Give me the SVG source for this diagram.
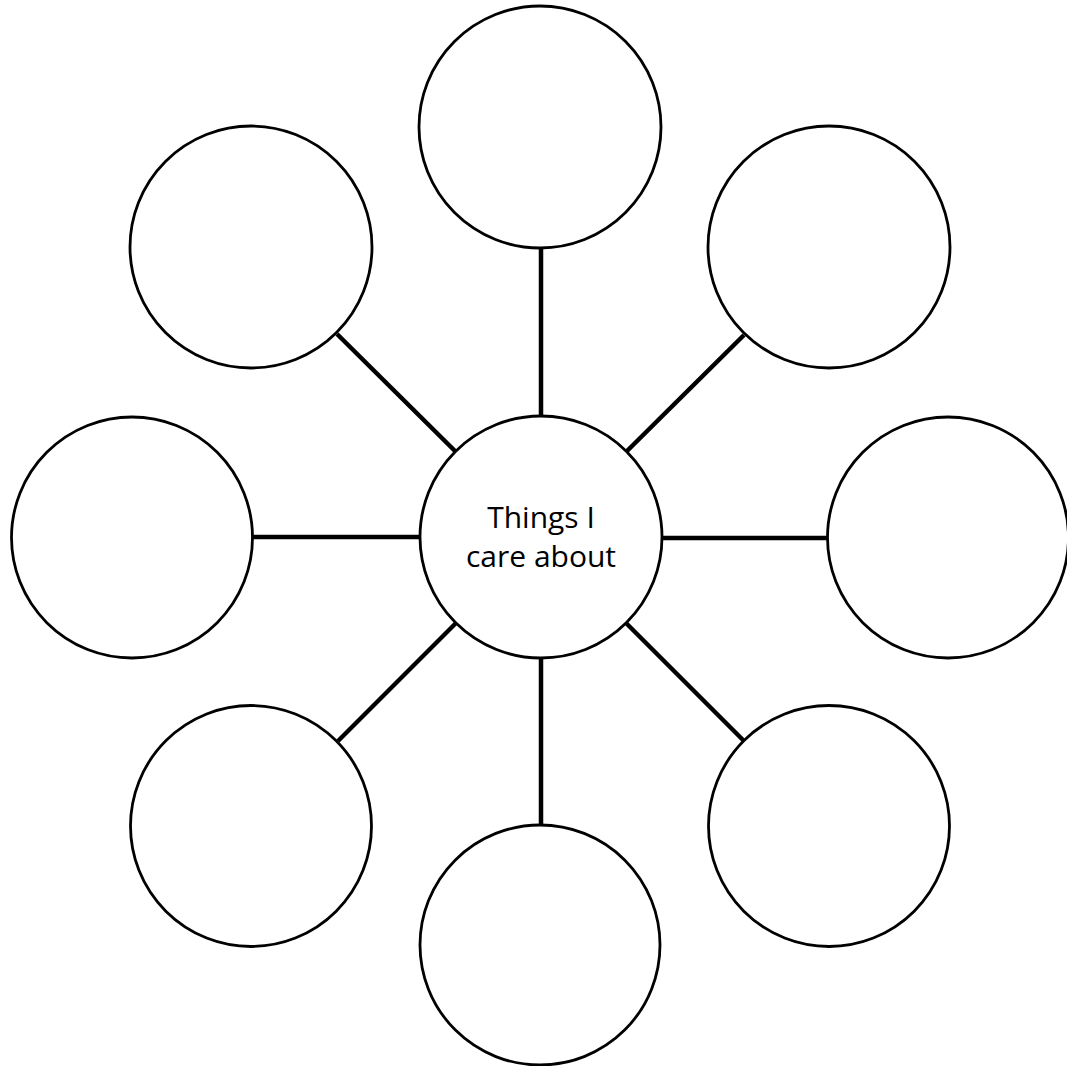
<svg xmlns="http://www.w3.org/2000/svg" width="1067" height="1066" viewBox="0 0 1067 1066">
<style>
.node{fill:#fff;stroke:#000;stroke-width:2.8}
.conn{stroke:#000;stroke-width:4.5;fill:none}
.lbl{font-family:"Open Sans","Liberation Sans",sans-serif;font-size:30px;fill:#000;text-anchor:middle}
</style>
<rect width="1067" height="1066" fill="#fff"/>
<g id="connectors">
<line class="conn" x1="541" y1="247" x2="541" y2="416"/>
<line class="conn" x1="541" y1="658" x2="541" y2="826"/>
<line class="conn" x1="252" y1="537" x2="421" y2="537"/>
<line class="conn" x1="661" y1="538" x2="828" y2="538"/>
<line class="conn" x1="337" y1="334" x2="456" y2="452"/>
<line class="conn" x1="744" y1="335" x2="626" y2="452"/>
<line class="conn" x1="456" y1="623" x2="338" y2="741"/>
<line class="conn" x1="626" y1="623" x2="744" y2="741"/>
</g>
<g id="node-top"><circle class="node" cx="540" cy="127" r="121"/></g>
<g id="node-top-left"><circle class="node" cx="251" cy="247" r="121"/></g>
<g id="node-top-right"><circle class="node" cx="829" cy="247" r="121"/></g>
<g id="node-left"><circle class="node" cx="132" cy="537.5" r="120.5"/></g>
<g id="node-right"><circle class="node" cx="948" cy="537.5" r="120.5"/></g>
<g id="node-bottom-left"><circle class="node" cx="251" cy="826" r="120.5"/></g>
<g id="node-bottom-right"><circle class="node" cx="829" cy="826" r="120.5"/></g>
<g id="node-bottom"><circle class="node" cx="540" cy="945" r="120"/></g>
<g id="node-center">
<circle class="node" cx="541" cy="537" r="121"/>
<text class="lbl" x="541" y="528">Things I</text>
<text class="lbl" x="541" y="567">care about</text>
</g>
</svg>
